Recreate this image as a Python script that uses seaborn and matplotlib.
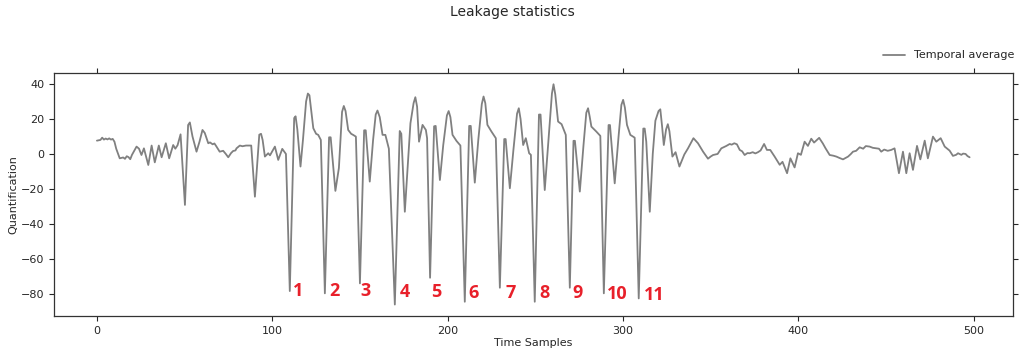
import matplotlib
matplotlib.use("Agg")
import matplotlib.pyplot as plt
import seaborn as sns
import pandas as pd

# Key samples (time sample, value)
time_samples = [
    0, 2, 3, 4, 5, 6, 7, 8, 9, 10, 11, 13, 15, 16, 17, 18, 19, 20, 22.6, 24,
    25.4, 26.8, 29.3, 31.2, 33, 35.3, 36.9, 39.3, 41.2, 43.5, 44.7, 46, 47.7, 50.2, 52.0, 53.0, 54.5,
    56.8, 58.5, 60.2, 61.5, 63.5, 64.5, 66, 67, 68, 70, 72, 73.5, 74.9, 76.5, 77.7, 79, 79.6,
    81.5, 83, 85, 88, 90.1, 92.6, 93.6, 94.5, 95.8, 97.7, 98.7, 100, 101.5, 103.4, 105.7, 107.8,
    110, 112.5, 113.3, 114.3, 116.1, 117.5, 119.3, 120.3, 121.2, 122.3, 123.4, 125, 126.2, 127.7,
    130, 132.4, 133.3, 136, 138, 139.8, 140.8, 141.8, 143.3, 145, 146.1, 147.7,
    150, 152.4, 153.3, 155.6, 157.5, 159.0, 160.0, 161.3, 162.9, 164.5, 166.5,
    169.9, 172.7, 173.6, 175.6, 178.8, 180.6, 181.6, 182.6, 183.7, 185.7, 187.6, 188.3,
    190, 192.3, 193.2, 195.6, 197.5, 199.6, 200.6, 201.6, 202.8, 205.1, 207.3,
    209.8, 212.3, 213.2, 215.5, 217.5, 219.5, 220.5, 221.5, 222.7, 225, 227.5,
    229.8, 232.3, 233.1, 235.5, 237.5, 239.6, 240.6, 241.6, 243.1, 244.6, 246.5, 247.5,
    249.7, 252.1, 253.0, 255.4, 257.5, 259.5, 260.4, 261.4, 263, 265, 267.4,
    269.7, 271.8, 272.6, 275.4, 277.5, 279.1, 280.1, 281.0, 282, 284.8, 287.1,
    289.1, 291.8, 292.6, 295.3, 297.5, 299.1, 300.1, 301.1, 302.3, 304.2, 306.7,
    309, 311.6, 312.4, 313.3, 315.3, 317.0, 318.5, 320.3, 321.3, 322.3, 323.3, 324.6, 325.6,
    326.5, 328.2, 330, 332.2, 335, 337.1,
    340.2, 342.8, 345.7, 348.5, 350, 351.4, 354, 356.1, 359, 360.9, 362, 363.5, 365, 366.6,
    368, 369.4, 371, 372.3, 374, 375.5, 377, 378.5, 380.5, 382.1, 384, 386.5, 389.4, 391,
    393.6, 395.5, 397.9, 399.8, 401.5, 403.6, 405.5, 407.4, 409, 411.9, 414, 415.5, 417.9,
    420, 421.7, 423.5, 425.5, 428.4, 430, 431.2, 433, 435, 437, 438.5, 440.7, 442.5, 444.5,
    446, 447.3, 449, 451, 453, 454.9, 457.4, 459.7, 461.6, 463.5, 465.4, 467.7, 469.6,
    472.1, 473.9, 476.8, 478.7, 481.2, 483.5, 485, 486.3, 488.2, 490, 491.1, 493, 494,
    495.4, 496.5, 497.7,
]
temporal_average = [
    7.6, 8.0, 9.3, 8.2, 8.8, 8.3, 8.9, 8.2, 8.6, 7.0, 3.0, -2.5, -2.0, -2.8, -1.3, -1.8, -3.0, -0.5, 4.2, 3.0,
    -0.6, 3.2, -6.3, 4.8, -4.8, 4.8, -1.9, 6.1, -2.5, 5.1, 3.0, 5.0, 11.2, -29.1, 16.5, 18.0, 10.0,
    1.3, 7.0, 13.7, 12.0, 6.1, 6.6, 5.5, 6.0, 4.5, 1.3, 1.8, 0.0, -1.9, 0.5, 1.7, 2.0, 3.2,
    4.8, 4.4, 4.8, 4.8, -24.4, 11.0, 11.5, 8.0, -1.5, 0.4, -0.8, 1.5, 4.2, -3.4, 2.9, 0.0,
    -78.3, 20.5, 21.5, 14.0, -7.2, 8.0, 30.0, 34.5, 33.5, 24.0, 14.7, 11.5, 10.9, 8.0,
    -79.6, 9.5, 9.5, -21.1, -8.0, 24.0, 27.4, 24.5, 13.7, 11.5, 10.9, 9.9,
    -73.9, 13.5, 13.5, -15.8, 8.0, 22.5, 24.8, 21.0, 10.9, 10.9, 3.0,
    -86.0, 13.1, 11.5, -33.0, 17.5, 29.0, 32.4, 27.0, 7.0, 16.6, 13.7, 9.0,
    -70.7, 15.8, 16.0, -14.9, 5.0, 22.0, 24.5, 21.0, 10.9, 7.4, 4.8,
    -84.4, 16.0, 16.0, -16.4, 8.0, 28.5, 32.8, 29.0, 16.6, 12.8, 9.0,
    -76.4, 8.5, 8.5, -19.6, 2.0, 23.0, 26.1, 20.0, 5.1, 9.0, 0.4, -0.5,
    -84.4, 22.5, 22.5, -20.6, 8.0, 34.5, 39.8, 34.0, 18.5, 17.0, 10.9,
    -76.4, 7.5, 7.5, -21.5, 5.0, 23.5, 26.1, 21.5, 15.6, 12.8, 10.3,
    -79.6, 16.5, 16.5, -16.8, 10.0, 28.0, 30.9, 26.5, 16.6, 10.9, 9.3,
    -82.5, 14.5, 14.5, 7.0, -33.0, 0.0, 19.0, 24.5, 25.5, 16.0, 5.1, 14.0, 17.0,
    13.0, -1.5, 1.0, -7.2, -0.3, 3.2,
    9.0, 6.1, 1.3, -2.7, -1.5, -0.6, 0.0, 3.2, 4.6, 5.7, 5.3, 6.1, 5.5, 2.3,
    1.5, -0.6, 0.5, 0.4, 1.0, 0.3, 1.0, 2.0, 5.7, 2.3, 2.3, -1.5, -6.2, -4.5,
    -11.0, -2.5, -7.7, 0.4, -0.5, 7.0, 4.6, 8.7, 6.5, 9.2, 6.0, 3.3, -0.6,
    -1.0, -1.5, -2.3, -3.1, -1.5, 0.0, 1.3, 1.8, 3.8, 3.0, 4.5, 4.2, 3.5, 3.2,
    3.0, 1.3, 2.5, 1.8, 2.3, 3.2, -11.0, 1.3, -11.0, 0.4, -9.1, 4.6, -3.1,
    7.6, -2.5, 9.9, 7.0, 9.0, 4.2, 3.0, 1.9, -1.1, -0.5, 0.4, -0.5, 0.2,
    0.0, -1.2, -1.9,
]

# Leakage labels (number, x, y)
label_texts = ["1", "2", "3", "4", "5", "6", "7", "8", "9", "10", "11"]
label_x = [114.6, 135.2, 153.4, 175.7, 193.3, 214.9, 236.0, 255.4, 274.2, 296.5, 318.1]
label_y = [-78.3, -78.3, -78.3, -78.9, -78.9, -79.4, -79.4, -79.4, -79.4, -80.0, -80.6]

sns.set_style("ticks")
plt.rcParams["font.family"] = ["DejaVu Sans"]

df = pd.DataFrame({"Time Samples": time_samples, "Quantification": temporal_average})

fig = plt.figure(figsize=(10.24, 3.59), dpi=100)
ax = fig.add_axes([0.0527, 0.120, 0.9363, 0.677])
sns.lineplot(data=df, x="Time Samples", y="Quantification", ax=ax,
             color="#808080", linewidth=1.3, label="Temporal average")

ax.set_xlim(-24.5, 522.3)
ax.set_ylim(-92.5, 46.3)
ax.set_xticks([0, 100, 200, 300, 400, 500])
ax.set_yticks([-80, -60, -40, -20, 0, 20, 40])
ax.tick_params(axis="both", labelsize=8, top=True, right=True, direction="out", length=3.5)
ax.set_xlabel("Time Samples", fontsize=8, labelpad=2)
ax.set_ylabel("Quantification", fontsize=8, labelpad=2)
for s in ax.spines.values():
    s.set_color("#333333")
    s.set_linewidth(0.9)

for t, x, y in zip(label_texts, label_x, label_y):
    ax.text(x, y, t, color="#e8202a", fontsize=13, fontweight="bold",
            family=["Open Sans", "DejaVu Sans"], ha="center", va="center")

ax.legend(loc="lower right", bbox_to_anchor=(1.012, 1.01), frameon=False, fontsize=8,
          handlelength=2.0)
fig.suptitle("Leakage statistics", fontsize=10, y=0.985)

fig.savefig("out.png", dpi=100)
